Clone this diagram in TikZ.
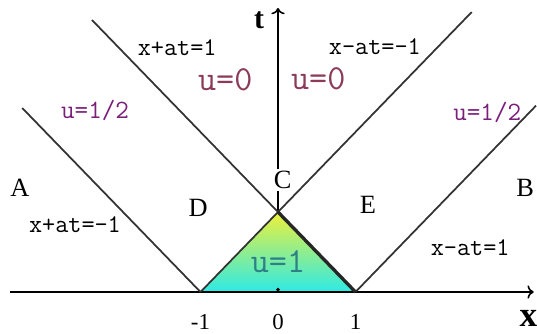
\documentclass[tikz,border=0pt]{standalone}
\usepackage{fontspec}
\setmainfont{Liberation Serif}
\usetikzlibrary{arrows.meta,positioning}
\definecolor{Mauve}{HTML}{8B3A5A}
\definecolor{Plum}{HTML}{7A1F7A}
\definecolor{Teal}{HTML}{2E7F86}
\definecolor{Lemon}{HTML}{EEF03A}
\definecolor{Aqua}{HTML}{2EEAE6}
\begin{document}
\begin{tikzpicture}[x=1.55cm,y=1.6cm,
  char/.style={draw=black!80,line width=1pt},
  eqlab/.style={font=\ttfamily\fontsize{14.5}{14.5}\selectfont},
  reglab/.style={font=\fontsize{15}{15}\selectfont},
  uzero/.style={font=\ttfamily\fontsize{20}{20}\selectfont,text=Mauve},
  uhalf/.style={font=\ttfamily\fontsize{15}{15}\selectfont,text=Plum}]
\useasboundingbox (-3.587,-0.5125) rectangle (3.342,3.65);
\coordinate (L) at (-1,0);
\coordinate (R) at (1,0);
\coordinate (apex) at (0,1);
\coordinate (O) at (0,0);
\coordinate (xl) at (-3.46,0);
\coordinate (xr) at (3.3,0);
\coordinate (ttop) at (0,3.55);
\coordinate (eA) at (-3.3,2.3);
\coordinate (eF) at (-2.4,3.4);
\coordinate (eG) at (2.5,3.5);
\coordinate (eB) at (3.33,2.33);
% the triangle u=1
\shade[top color=Lemon,bottom color=Aqua] (L)--(apex)--(R)--cycle;
\draw[->,line width=.9pt] (xl) -- (xr);
\draw[->,line width=.9pt] (apex) -- (ttop);
\draw[char] (L) -- (eA);
\draw[char] (R) -- (eF);
\draw[char] (L) -- (eG);
\draw[char] (R) -- (eB);
\draw[line width=1.9pt,black!85] (apex) -- (R);
\fill (0,.03) circle (1.1pt);
% labels
\node[font=\bfseries\fontsize{17}{17}\selectfont] (tlab) at (-.245,3.4) {t};
\node[font=\bfseries\fontsize{20}{20}\selectfont] (xlab) at (3.23,-.33) {x};
\foreach \x/\lab in {-1/-1,0/0,1/1}{\node[font=\fontsize{13}{13}\selectfont] (n\x) at (\x,-.375) {\lab};}
\node[eqlab] (q1) at (-1.3,3.06) {x+at=1};
\node[eqlab] (q2) at (1.25,3.07) {x-at=-1};
\node[eqlab] (q3) at (-2.62,.84) {x+at=-1};
\node[eqlab] (q4) at (2.48,.55) {x-at=1};
\node[uzero] (u0l) at (-.68,2.65) {u=0};
\node[uzero] (u0r) at (.52,2.67) {u=0};
\node[uhalf] (uhl) at (-2.36,2.275) {u=1/2};
\node[uhalf] (uhr) at (2.7,2.25) {u=1/2};
\node[font=\ttfamily\fontsize{20}{20}\selectfont,text=Teal] (u1) at (0,.375) {u=1};
\node[reglab] (A) at (-3.33,1.3) {A};
\node[reglab] (B) at (3.19,1.3) {B};
\node[reglab,fill=white,inner sep=1pt] (C) at (.06,1.4) {C};
\node[reglab] (D) at (-1.03,1.05) {D};
\node[reglab] (E) at (1.16,1.09) {E};
\end{tikzpicture}
\end{document}
